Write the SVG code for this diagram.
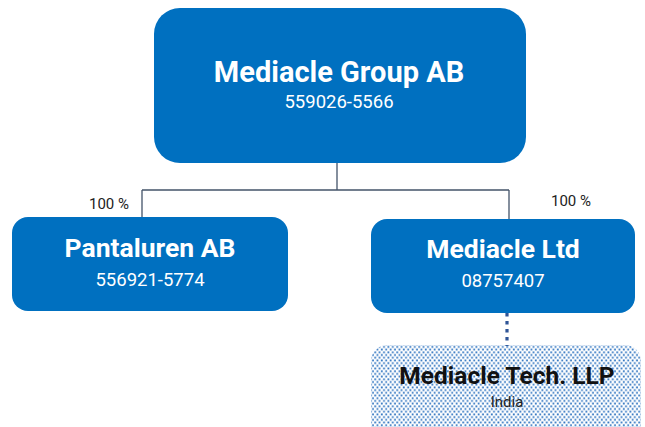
<svg xmlns="http://www.w3.org/2000/svg" width="645" height="427" viewBox="0 0 645 427">
<defs>
<pattern id="dots" width="4.4" height="5.4" patternUnits="userSpaceOnUse">
<rect x="0.3" y="0.4" width="1.8" height="1.8" fill="#2F74C0"/>
<rect x="2.5" y="3.1" width="1.8" height="1.8" fill="#2F74C0"/>
</pattern>
</defs>
<style>
.box{fill:#0070C0}
.t1{font-family:Roboto,"Liberation Sans",sans-serif;font-weight:bold;fill:#fff;text-anchor:middle}
.t2{font-family:Roboto,"Liberation Sans",sans-serif;fill:#fff;text-anchor:middle}
.pct{font-family:Roboto,"Liberation Sans",sans-serif;font-size:15px;fill:#222}
.conn{fill:none;stroke:#44546A;stroke-width:1.3}
</style>
<g id="connectors">
<path class="conn" d="M337 160 V190 M142 190 H509 M142 190 V219 M509 190 V220"/>
<line x1="507" y1="313" x2="507" y2="346" stroke="#2F5496" stroke-width="3.2" stroke-dasharray="3.5 4.5"/>
<text class="pct" x="89" y="209">100 %</text>
<text class="pct" x="551" y="206">100 %</text>
</g>
<g id="node-group">
<rect class="box" x="154" y="8" width="372" height="155" rx="26"/>
<text class="t1" x="339" y="82" font-size="29">Mediacle Group AB</text>
<text class="t2" x="339" y="108" font-size="18.5">559026-5566</text>
</g>
<g id="node-pantaluren">
<rect class="box" x="12" y="217" width="276" height="94" rx="16"/>
<text class="t1" x="150" y="257" font-size="26.5">Pantaluren AB</text>
<text class="t2" x="150" y="286" font-size="18.5">556921-5774</text>
</g>
<g id="node-ltd">
<rect class="box" x="371" y="219" width="264" height="94" rx="16"/>
<text class="t1" x="503" y="258" font-size="26.5">Mediacle Ltd</text>
<text class="t2" x="503" y="287" font-size="18.5">08757407</text>
</g>
<g id="node-tech">
<rect x="371" y="345" width="270" height="100" rx="16" fill="url(#dots)"/>
<text x="507" y="384" font-family="Roboto,'Liberation Sans',sans-serif" font-weight="bold" font-size="24.5" fill="#111" text-anchor="middle">Mediacle Tech. LLP</text>
<text x="507" y="407" font-family="Roboto,'Liberation Sans',sans-serif" font-size="15" fill="#222" text-anchor="middle">India</text>
</g>
</svg>
